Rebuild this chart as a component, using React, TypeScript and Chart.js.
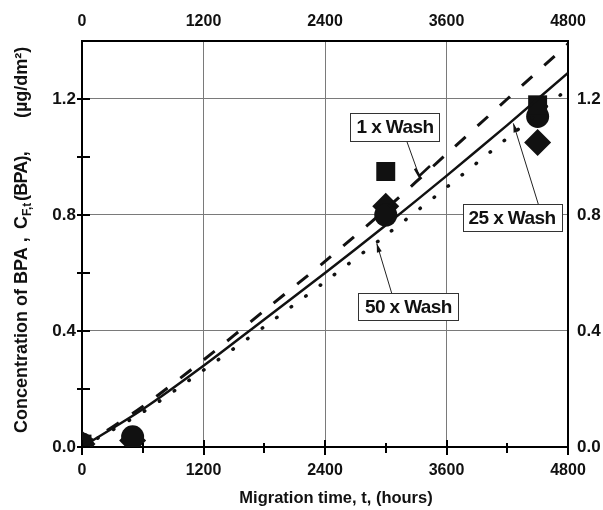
import React, { useEffect, useRef } from 'react';
import { Chart, registerables } from 'chart.js';

Chart.register(...registerables);

// ---- data ----
const TIME_TICKS = [0, 1200, 2400, 3600, 4800];
const CONC_TICKS = [0, 0.4, 0.8, 1.2];
const TIME_MARKS = [0, 600, 1200, 1800, 2400, 3000, 3600, 4200, 4800];
const CONC_MARKS = [0, 0.2, 0.4, 0.6, 0.8, 1.0, 1.2];

const FIT_T = [0, 600, 1200, 1800, 2400, 3000, 3600, 4200, 4800];
const FIT_1X = [0, 0.14, 0.3, 0.47, 0.64, 0.82, 1.01, 1.2, 1.39];
const FIT_25X = [0, 0.13, 0.28, 0.44, 0.6, 0.765, 0.935, 1.11, 1.29];
const FIT_50X = [0, 0.12, 0.265, 0.415, 0.57, 0.73, 0.895, 1.065, 1.235];

const WASH1_T = [0, 3000, 4500];
const WASH1_C = [0.01, 0.95, 1.18];
const WASH25_T = [0, 500, 3000, 4500];
const WASH25_C = [0.01, 0.035, 0.8, 1.14];
const WASH50_T = [0, 500, 3000, 4500];
const WASH50_C = [0.01, 0.022, 0.83, 1.05];

const X_TITLE = 'Migration time, t, (hours)';

// annotation callouts (data-space anchors)
const ANNOTATIONS = [
  { text: '1 x Wash', box: [3091, 1.103], size: [89, 28], tail: [3207, 1.055], tip: [3331, 0.9345], head: 'open' },
  { text: '25 x Wash', box: [4247, 0.79], size: [99, 27], tail: [4507, 0.837], tip: [4260, 1.116], head: 'filled' },
  { text: '50 x Wash', box: [3223, 0.484], size: [100, 27], tail: [3059, 0.53], tip: [2911, 0.702], head: 'filled' },
];

const FAMILY = "'Liberation Sans', Arial, sans-serif";
const INK = '#111';

const pts = (xs: number[], ys: number[]) => xs.map((x, i) => ({ x, y: ys[i] }));

const overlay = {
  id: 'overlay',
  afterDatasetsDraw(chart: any) {
    const ctx = chart.ctx;
    const xs = chart.scales.x;
    const ys = chart.scales.y;
    ctx.save();
    for (const a of ANNOTATIONS) {
      const tx = xs.getPixelForValue(a.tail[0]);
      const ty = ys.getPixelForValue(a.tail[1]);
      const px = xs.getPixelForValue(a.tip[0]);
      const py = ys.getPixelForValue(a.tip[1]);
      ctx.strokeStyle = '#222';
      ctx.lineWidth = 1;
      ctx.beginPath();
      ctx.moveTo(tx, ty);
      ctx.lineTo(px, py);
      ctx.stroke();
      if (a.head === 'open') {
        ctx.lineWidth = 2.5;
        ctx.strokeStyle = INK;
        ctx.beginPath();
        ctx.moveTo(px - 4.3, py - 7.3);
        ctx.lineTo(px, py);
        ctx.lineTo(px + 10.7, py - 10);
        ctx.stroke();
      } else {
        const dx = px - tx, dy = py - ty;
        const len = Math.hypot(dx, dy);
        const ux = dx / len, uy = dy / len;
        const L = 9, W = 2.5;
        ctx.fillStyle = INK;
        ctx.beginPath();
        ctx.moveTo(px, py);
        ctx.lineTo(px - ux * L - uy * W, py - uy * L + ux * W);
        ctx.lineTo(px - ux * L + uy * W, py - uy * L - ux * W);
        ctx.closePath();
        ctx.fill();
      }
      const cx = xs.getPixelForValue(a.box[0]);
      const cy = ys.getPixelForValue(a.box[1]);
      const w = a.size[0], h = a.size[1];
      const bx = Math.round(cx - w / 2) + 0.5;
      const by = Math.round(cy - h / 2) + 0.5;
      ctx.fillStyle = '#fff';
      ctx.fillRect(bx, by, w, h);
      ctx.strokeStyle = '#333';
      ctx.lineWidth = 1;
      ctx.strokeRect(bx, by, w, h);
      ctx.fillStyle = INK;
      ctx.font = `bold 19px ${FAMILY}`;
      (ctx as any).letterSpacing = '-0.6px';
      ctx.textAlign = 'center';
      ctx.textBaseline = 'middle';
      ctx.fillText(a.text, cx, cy + 1);
      (ctx as any).letterSpacing = '0px';
    }
    ctx.restore();
  },
  afterDraw(chart: any) {
    const ctx = chart.ctx;
    const { left, bottom } = chart.chartArea;
    const xs = chart.scales.x;
    const ys = chart.scales.y;
    ctx.save();
    ctx.strokeStyle = '#000';
    ctx.lineWidth = 2;
    for (const t of TIME_MARKS) {
      const p = Math.round(xs.getPixelForValue(t));
      const major = TIME_TICKS.includes(t);
      ctx.beginPath();
      ctx.moveTo(p, bottom - (major ? 7 : 4));
      ctx.lineTo(p, bottom + (major ? 8 : 6));
      ctx.stroke();
    }
    for (const v of CONC_MARKS) {
      const p = Math.round(ys.getPixelForValue(v));
      ctx.beginPath();
      ctx.moveTo(left - 5, p);
      ctx.lineTo(left + 8, p);
      ctx.stroke();
    }
    // x title
    ctx.fillStyle = INK;
    ctx.font = `bold 16.5px ${FAMILY}`;
    ctx.textAlign = 'center';
    ctx.textBaseline = 'alphabetic';
    ctx.fillText(X_TITLE, 336, 503);
    // y title (rotated, with subscript)
    ctx.translate(27, 0);
    ctx.rotate(-Math.PI / 2);
    ctx.textAlign = 'left';
    ctx.font = `bold 18px ${FAMILY}`;
    ctx.fillText('Concentration of BPA ,', -433, 0);
    ctx.fillText('C', -229, 0);
    ctx.font = `bold 12px ${FAMILY}`;
    ctx.fillText('F,t', -216, 4);
    ctx.font = `bold 18px ${FAMILY}`;
    (ctx as any).letterSpacing = '-0.8px';
    ctx.fillText('(BPA),', -201, 0);
    (ctx as any).letterSpacing = '0px';
    ctx.fillText('(\u00B5g/dm\u00B2)', -118, 0);
    ctx.restore();
  },
};

export default function App() {
  const ref = useRef<HTMLCanvasElement | null>(null);
  useEffect(() => {
    if (!ref.current) return;
    const tickFont = (size: number) => ({ family: FAMILY, size, weight: 'bold' as const });
    const timeTicks = (s: any) => { s.ticks = TIME_TICKS.map((v) => ({ value: v })); };
    const concTicks = (s: any) => { s.ticks = CONC_TICKS.map((v) => ({ value: v })); };
    const timeLabel = (v: any) => String(Math.round(Number(v)));
    const concLabel = (v: any) => Number(v).toFixed(1);
    const lineDs = (data: any, dash: number[], width: number, cap: string) => ({
      data,
      showLine: true,
      borderColor: INK,
      borderWidth: width,
      borderDash: dash,
      borderCapStyle: cap,
      pointRadius: 0,
      tension: 0.3,
      clip: 0,
    });
    const markDs = (data: any, style: string, r: number) => ({
      data,
      showLine: false,
      pointStyle: style,
      pointRadius: r,
      pointHoverRadius: r,
      backgroundColor: INK,
      borderColor: INK,
      borderWidth: 0,
      clip: 0,
    });
    const chart = new Chart(ref.current, {
      type: 'scatter',
      data: {
        datasets: [
          lineDs(pts(FIT_T, FIT_1X), [14, 16], 3, 'butt'),
          lineDs(pts(FIT_T, FIT_25X), [], 2.5, 'butt'),
          lineDs(pts(FIT_T, FIT_50X), [0.5, 17.5], 3.5, 'round'),
          markDs(pts(WASH1_T, WASH1_C), 'rect', 13.4),
          markDs(pts(WASH25_T, WASH25_C), 'circle', 11.5),
          markDs(pts(WASH50_T, WASH50_C), 'rectRot', 13.5),
        ] as any,
      },
      options: {
        responsive: false,
        devicePixelRatio: 1,
        animation: false,
        events: [],
        layout: { padding: 0 },
        plugins: { legend: { display: false }, tooltip: { enabled: false } },
        scales: {
          x: {
            type: 'linear', position: 'bottom', min: 0, max: 4800,
            afterBuildTicks: timeTicks,
            afterFit: (s: any) => { s.height = 63; },
            grid: { color: '#7a7a7a', lineWidth: 1, drawTicks: false },
            border: { color: '#000', width: 2 },
            ticks: { font: tickFont(16), color: INK, padding: 14, maxRotation: 0, autoSkip: false, callback: timeLabel },
          },
          x2: {
            type: 'linear', position: 'top', min: 0, max: 4800,
            afterBuildTicks: timeTicks,
            afterFit: (s: any) => { s.height = 41; },
            grid: { display: false, drawTicks: false },
            border: { display: true, color: '#000', width: 2 },
            ticks: { font: tickFont(16), color: INK, padding: 10, maxRotation: 0, autoSkip: false, callback: timeLabel },
          },
          y: {
            type: 'linear', position: 'left', min: 0, max: 1.4,
            afterBuildTicks: concTicks,
            afterFit: (s: any) => { s.width = 82; },
            grid: { color: '#7a7a7a', lineWidth: 1, drawTicks: false },
            border: { color: '#000', width: 2 },
            ticks: { font: tickFont(17), color: INK, padding: 6, callback: concLabel },
          },
          y2: {
            type: 'linear', position: 'right', min: 0, max: 1.4,
            afterBuildTicks: concTicks,
            afterFit: (s: any) => { s.width = 35; },
            grid: { display: false, drawTicks: false },
            border: { display: true, color: '#000', width: 2 },
            ticks: { font: tickFont(17), color: INK, padding: 9, callback: concLabel },
          },
        },
      } as any,
      plugins: [overlay],
    });
    return () => chart.destroy();
  }, []);
  return (
    <div style={{ position: 'absolute', left: 0, top: 0, width: 603, height: 510, background: '#fff' }}>
      <canvas ref={ref} width={603} height={510} style={{ display: 'block', width: 603, height: 510 }} />
    </div>
  );
}
